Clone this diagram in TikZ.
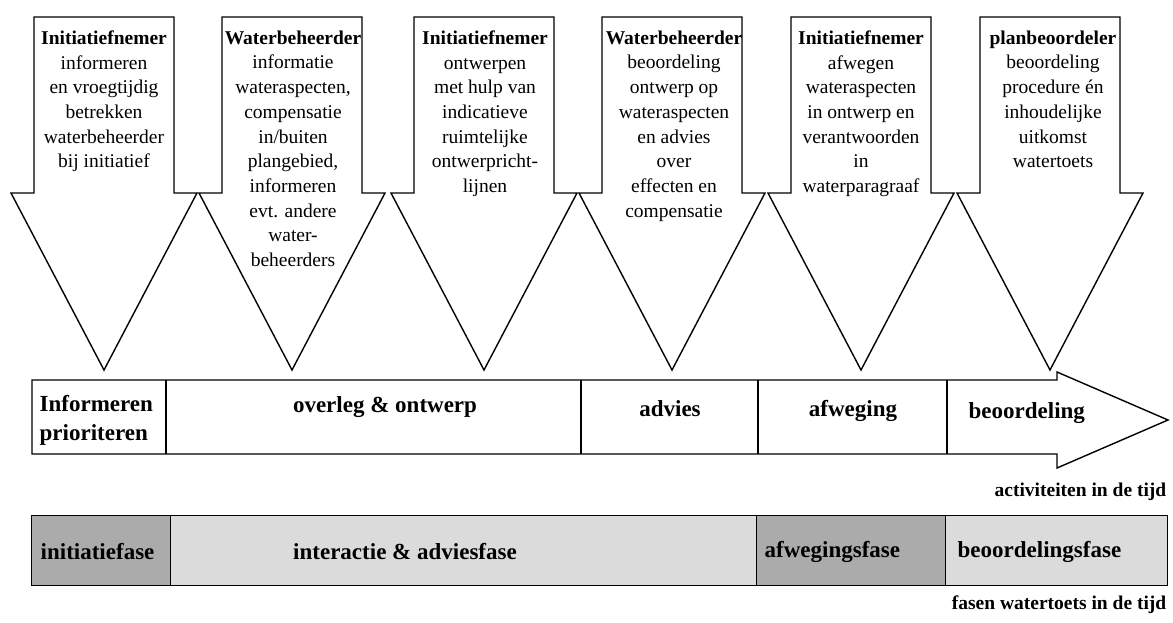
\documentclass[tikz,border=0pt]{standalone}
\usepackage{fontspec}
\setmainfont{Liberation Serif}
\usepackage{tikz}
\definecolor{fasedonker}{gray}{0.67}
\definecolor{faselicht}{gray}{0.86}

\begin{document}
\begin{tikzpicture}[x=1pt,y=-1pt,line width=1.4pt,
		taak/.style={anchor=north,align=center,inner sep=0pt,font=\fontsize{19.5}{24.7}\selectfont},
		balk/.style={inner sep=0pt,font=\fontsize{23}{29}\selectfont\bfseries},
		fase/.style={draw,anchor=north west,minimum height=70pt,inner sep=0pt},
		bijschrift/.style={anchor=east,inner sep=0pt,font=\fontsize{19.5}{21}\selectfont\bfseries}]
	\useasboundingbox (0,0) rectangle (1173,623);
	% pijlen naar beneden
	\foreach \c in {104,292,484,672,861,1050}
		\draw[fill=white] (\c-70,17) -- (\c+70,17) -- (\c+70,193) -- (\c+93,193)
			-- (\c,370) -- (\c-93,193) -- (\c-70,193) -- cycle;
	\node[taak] (t1) at (104,30) {\textbf{Initiatiefnemer}\\informeren\\en vroegtijdig\\betrekken\\waterbeheerder\\bij initiatief};
	\node[taak] (t2) at (293,30) {\textbf{Waterbeheerder}\\informatie\\wateraspecten,\\compensatie\\in/buiten\\plangebied,\\informeren\\evt. andere\\water-\\beheerders};
	\node[taak] (t3) at (485,30) {\textbf{Initiatiefnemer}\\ontwerpen\\met hulp van\\indicatieve\\ruimtelijke\\ontwerpricht-\\lijnen};
	\node[taak] (t4) at (674,30) {\textbf{Waterbeheerder}\\beoordeling\\ontwerp op\\wateraspecten\\en advies\\over\\effecten en\\compensatie};
	\node[taak] (t5) at (861,30) {\textbf{Initiatiefnemer}\\afwegen\\wateraspecten\\in ontwerp en\\verantwoorden\\in\\waterparagraaf};
	\node[taak] (t6) at (1053,30) {\textbf{planbeoordeler}\\beoordeling\\procedure én\\inhoudelijke\\uitkomst\\watertoets};
	% activiteiten
	\draw[fill=white] (32,380) -- (1057,380) -- (1057,372) -- (1168,420) -- (1057,468)
		-- (1057,454) -- (32,454) -- cycle;
	\foreach \x in {166,581,758,947}
		\draw (\x,380) -- (\x,454);
	\node[balk,anchor=west,align=left] (informeren) at (39,420) {Informeren\\prioriteren};
	\node[balk] (overleg) at (385,407) {overleg \& ontwerp};
	\node[balk] (advies) at (670,409) {advies};
	\node[balk] (afweging) at (853,411) {afweging};
	\node[balk,anchor=west] (beoordeling) at (968,413) {beoordeling};
	\node[bijschrift] (activiteiten) at (1167,492) {activiteiten in de tijd};
	% fasen
	\node[fase,fill=fasedonker,minimum width=139pt] (f1) at (31,515) {};
	\node[fase,fill=faselicht,minimum width=586pt] (f2) at (170,515) {};
	\node[fase,fill=fasedonker,minimum width=189pt] (f3) at (756,515) {};
	\node[fase,fill=faselicht,minimum width=222pt] (f4) at (945,515) {};
	\node[balk,anchor=west] (initiatiefase) at (40,552) {initiatiefase};
	\node[balk] (interactie) at (405,552) {interactie \& adviesfase};
	\node[balk,anchor=west] (afwegingsfase) at (764,552) {afwegingsfase};
	\node[balk,anchor=west] (beoordelingsfase) at (957,552) {beoordelingsfase};
	\node[bijschrift] (fasen) at (1167,605) {fasen watertoets in de tijd};
\end{tikzpicture}
\end{document}
